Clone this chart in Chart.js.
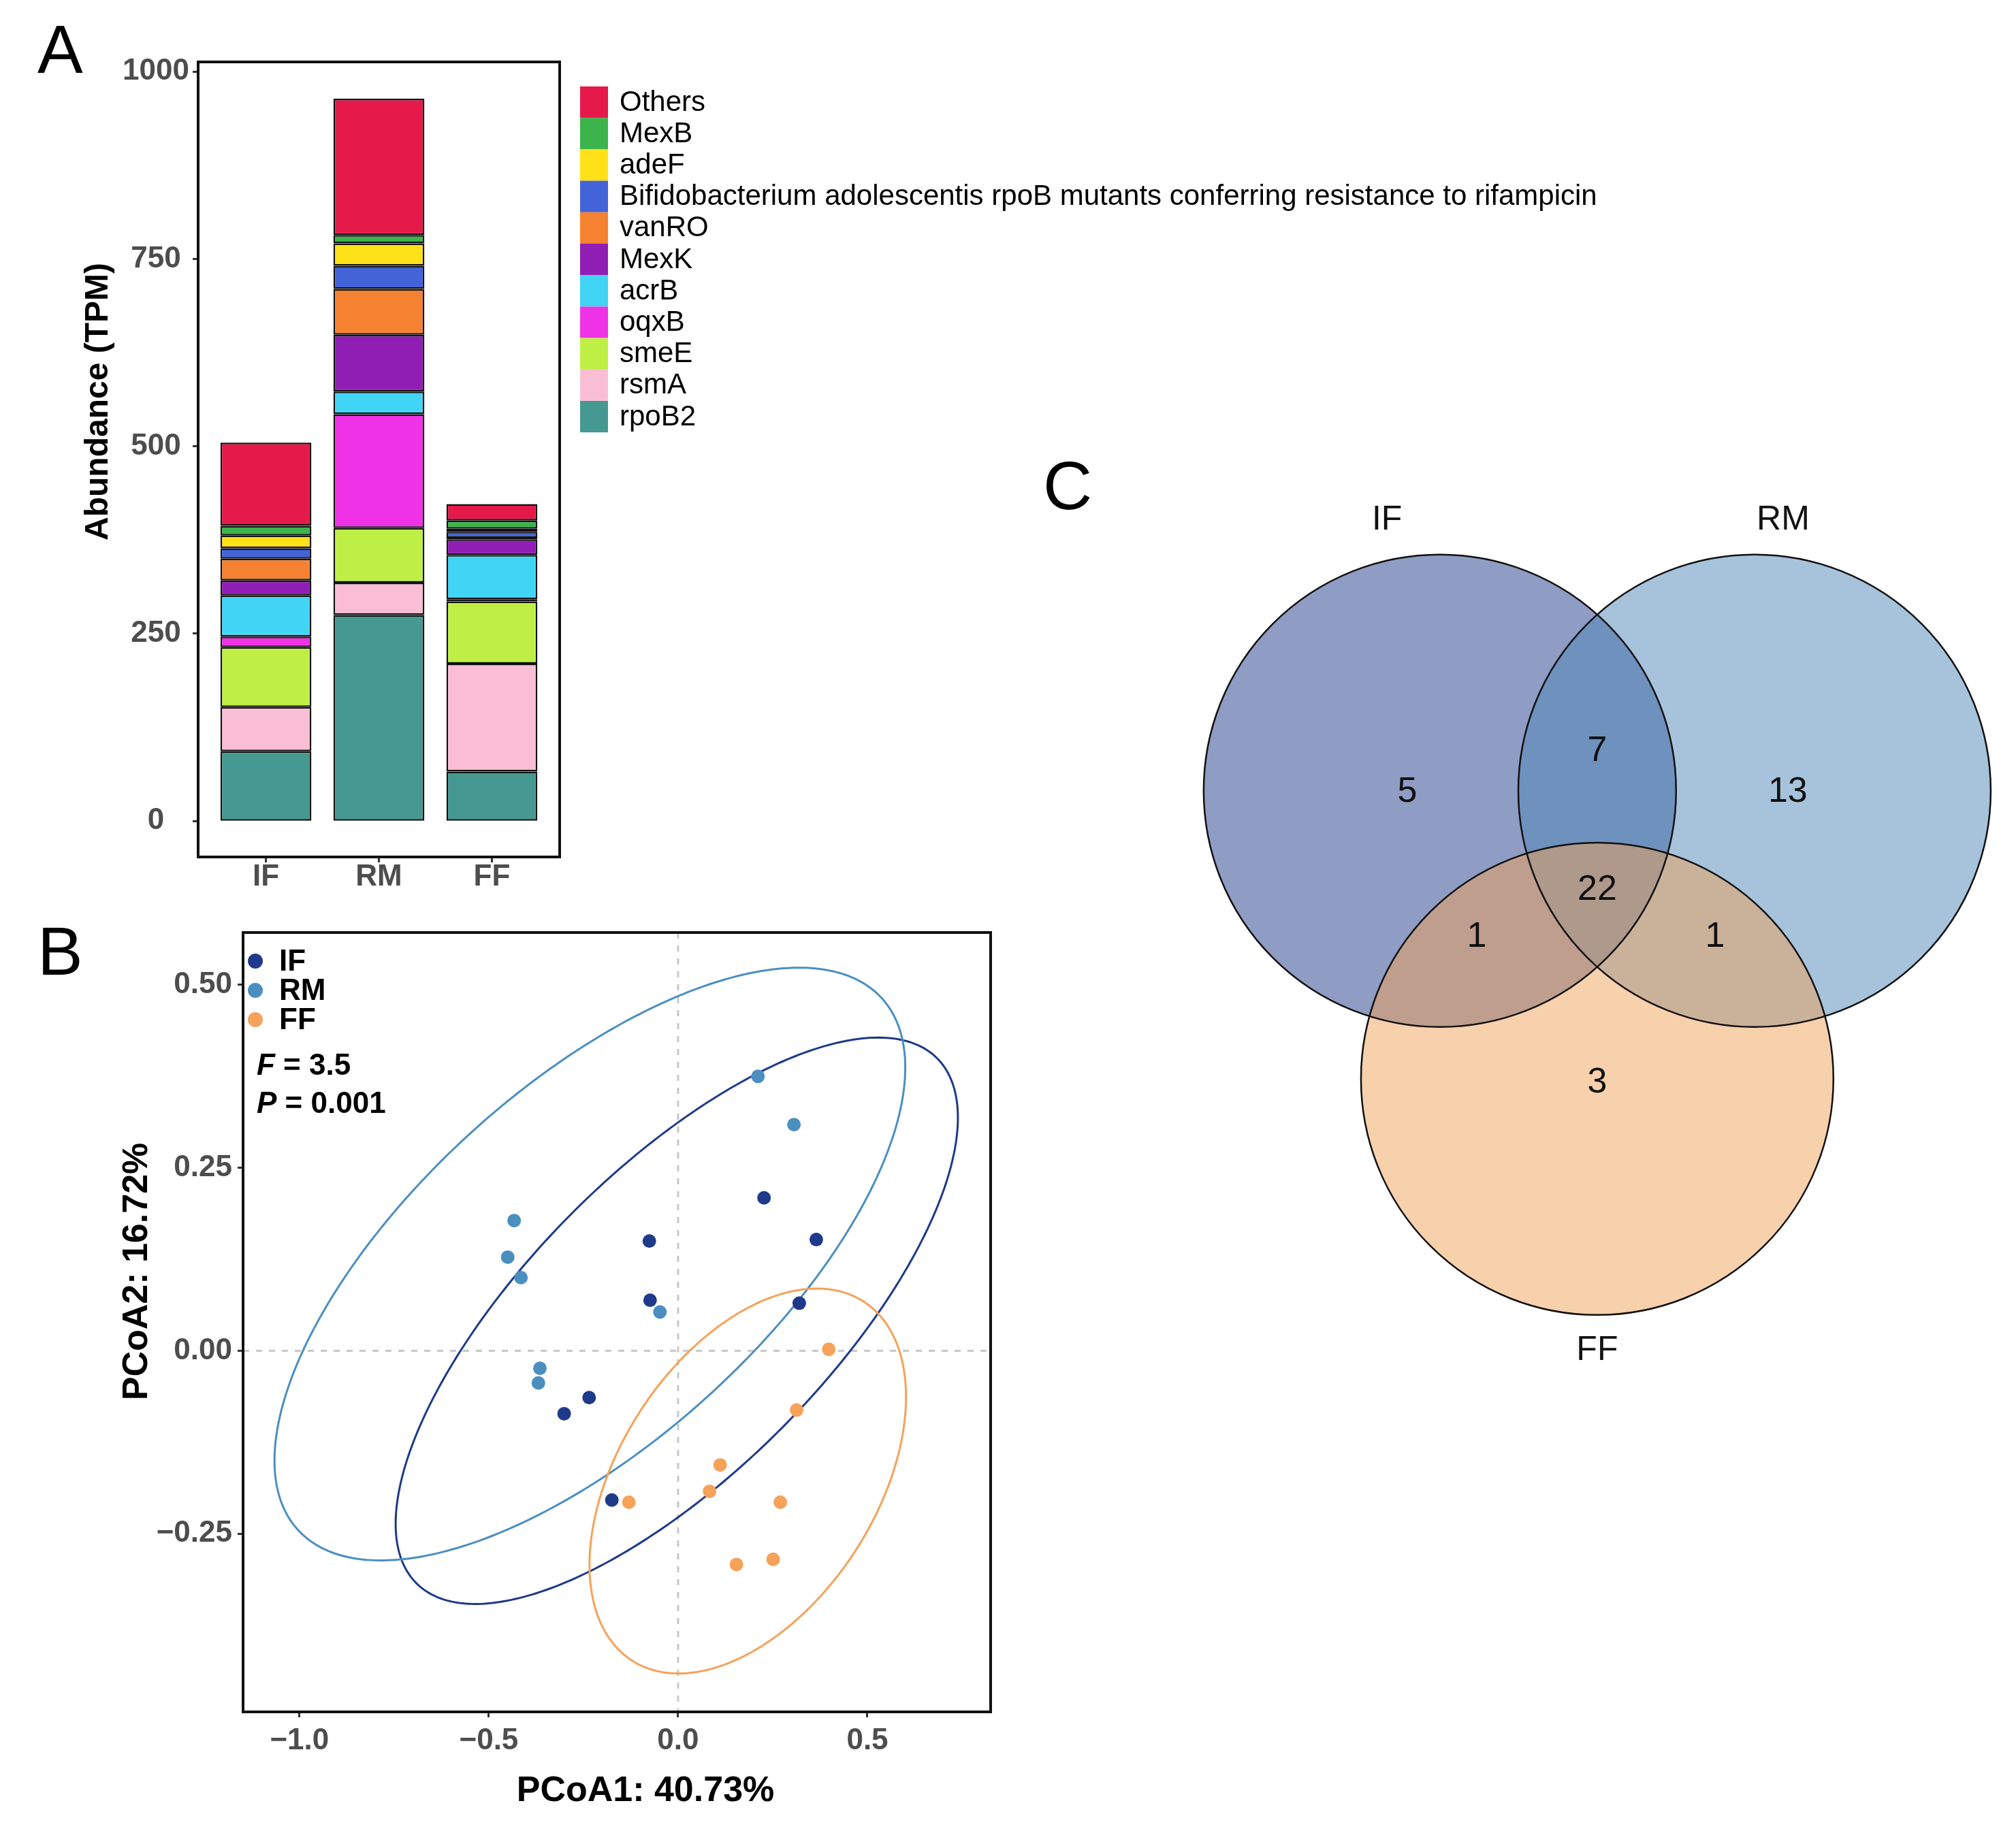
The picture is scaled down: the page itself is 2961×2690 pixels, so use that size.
<!DOCTYPE html>
<html>
<head>
<meta charset="utf-8">
<script src="https://cdn.jsdelivr.net/npm/chart.js@4.4.1/dist/chart.umd.min.js"></script>
<style>
  html, body { margin: 0; padding: 0; background: #fff; }
  #page { position: relative; width: 2961px; height: 2690px; overflow: hidden; font-family: 'Liberation Sans', Arial, sans-serif; }
  .layer { position: absolute; left: 0; top: 0; width: 2961px; height: 2690px; }
  .tag { position: absolute; font-size: 100px; line-height: 1; color: #000; }
</style>
</head>
<body>
<div id="page">
  <div class="layer"><canvas id="barCanvas"></canvas></div>
  <div class="layer"><canvas id="pcoaCanvas"></canvas></div>
  <div class="layer"><canvas id="vennCanvas"></canvas></div>
  <div class="tag" style="left:55px;top:22px">A</div>
  <div class="tag" style="left:55px;top:1347px">B</div>
  <div class="tag" style="left:1532px;top:663px">C</div>
</div>
<script>
const FONT = "'Liberation Sans', Arial, Helvetica, sans-serif";

// ---- panel A: abundance (TPM) per group ----
const groupsA = ['IF', 'RM', 'FF'];
const yTicksA = [0, 250, 500, 750, 1000];
// stacking order, bottom to top
const genesA = ['rpoB2', 'rsmA', 'smeE', 'oqxB', 'acrB', 'MexK', 'vanRO',
  'Bifidobacterium adolescentis rpoB mutants conferring resistance to rifampicin',
  'adeF', 'MexB', 'Others'];
const rpoB2  = [93, 275, 66];
const rsmA   = [59, 43, 144];
const smeE   = [80, 73, 83];
const oqxB   = [14, 152, 3];
const acrB   = [55, 30, 59];
const MexK   = [20, 76, 21];
const vanRO  = [29, 61, 2];
const bifido = [14, 31, 8];
const adeF   = [17, 30, 4];
const MexB   = [13, 11, 11];
const others = [111, 182, 22];
const abundanceA = [rpoB2, rsmA, smeE, oqxB, acrB, MexK, vanRO, bifido, adeF, MexB, others];
const geneColors = ['#469990', '#FABED4', '#BFEF45', '#F032E6', '#42D4F4', '#911EB4',
  '#F58231', '#4363D8', '#FFE119', '#3CB44B', '#E6194B'];

// ---- panel B: PCoA ----
const groupsB = ['IF', 'RM', 'FF'];
const pcoaIFx = [0.227, 0.365, -0.076, -0.074, 0.320, -0.235, -0.301, -0.175];
const pcoaIFy = [0.209, 0.152, 0.150, 0.069, 0.065, -0.064, -0.086, -0.204];
const pcoaRMx = [0.211, 0.306, -0.433, -0.450, -0.415, -0.048, -0.365, -0.369];
const pcoaRMy = [0.375, 0.309, 0.178, 0.128, 0.100, 0.053, -0.024, -0.044];
const pcoaFFx = [0.398, 0.313, 0.111, 0.083, -0.130, 0.270, 0.251, 0.154];
const pcoaFFy = [0.002, -0.081, -0.156, -0.192, -0.207, -0.207, -0.285, -0.292];
// 95% ellipses: centre x, centre y, half-width x, half-height y, xy term
const ellipseIF = [-0.0035, 0.041, 0.7425, 0.387, 0.206];
const ellipseRM = [-0.233, 0.1185, 0.833, 0.405, 0.2237];
const ellipseFF = [0.184, -0.178, 0.418, 0.263, 0.048];
const xTicksB = [-1.0, -0.5, 0.0, 0.5];
const xTickLabelsB = ['\u22121.0', '\u22120.5', '0.0', '0.5'];
const yTicksB = [-0.25, 0.0, 0.25, 0.5];
const yTickLabelsB = ['\u22120.25', '0.00', '0.25', '0.50'];
const statLines = [['F', ' = 3.5'], ['P', ' = 0.001']];
const groupColorsB = ['#1F3A8A', '#4B8FC1', '#F6A25A'];

// ---- panel C: Venn ----
const vennSets = ['IF', 'RM', 'FF'];
const vennRegions = ['IF', 'RM', 'FF', 'IF&RM', 'IF&FF', 'RM&FF', 'IF&RM&FF'];
const vennCounts = [5, 13, 3, 7, 1, 1, 22];
const vennFill = ['rgba(31,58,136,0.5)', 'rgba(77,135,183,0.5)', 'rgba(239,161,89,0.5)'];
// layout of the diagram (circle radius = 1)
const vennCentres = [[-0.666, 0.6095], [0.666, 0.6095], [0, -0.6095]];
const vennSetLabelPos = [[-0.89, 1.754], [0.787, 1.754], [0, -1.76]];
const vennRegionPos = [[-0.804, 0.604], [0.807, 0.604], [0, -0.626], [0, 0.776],
  [-0.51, -0.009], [0.499, -0.009], [0, 0.19]];

const tickGrid = { drawOnChartArea: false, drawTicks: true, tickLength: 8, tickWidth: 3, tickColor: '#333', offset: false };

function boxPlugin(id) {
  return {
    id: id,
    afterDraw(chart) {
      const {ctx, chartArea: a} = chart;
      ctx.save();
      ctx.strokeStyle = '#111';
      ctx.lineWidth = 4;
      ctx.strokeRect(a.left, a.top, a.right - a.left, a.bottom - a.top);
      ctx.restore();
    }
  };
}

// legend + axis title for panel A
const barExtras = {
  id: 'barExtras',
  afterDraw(chart) {
    const {ctx, chartArea: a} = chart;
    const ds = chart.data.datasets.slice().reverse();
    ctx.save();
    const h = 46.2;
    ds.forEach((d, i) => {
      ctx.fillStyle = d.backgroundColor;
      ctx.fillRect(a.right + 30, a.top + 36 + i * h, 41, h);
      ctx.fillStyle = '#000';
      ctx.font = '42px ' + FONT;
      ctx.textAlign = 'left';
      ctx.textBaseline = 'middle';
      ctx.fillText(d.label, a.right + 88, a.top + 36 + i * h + h / 2 + 1);
    });
    ctx.translate(145, 590);
    ctx.rotate(-Math.PI / 2);
    ctx.font = 'bold 48px ' + FONT;
    ctx.textAlign = 'center';
    ctx.fillText('Abundance (TPM)', 0, 0);
    ctx.restore();
  }
};

const barChart = new Chart(document.getElementById('barCanvas').getContext('2d'), {
  type: 'bar',
  data: {
    datasets: genesA.map((g, i) => ({
      label: g,
      data: abundanceA[i].map((v, j) => ({x: j + 1, y: v})),
      backgroundColor: geneColors[i],
      borderColor: '#111',
      borderWidth: 2.5,
      borderSkipped: false,
      barPercentage: 1,
      categoryPercentage: 0.805
    }))
  },
  options: {
    responsive: true,
    maintainAspectRatio: false,
    animation: false,
    layout: { padding: { left: 161, top: 91, right: 2139, bottom: 1371 } },
    plugins: { legend: { display: false }, tooltip: { enabled: false } },
    scales: {
      x: {
        type: 'linear', stacked: true, min: 0.4, max: 3.6, offset: false,
        afterFit: s => { s.height = 60; },
        afterBuildTicks: s => { s.ticks = groupsA.map((g, i) => ({value: i + 1})); },
        ticks: {
          callback: v => groupsA[v - 1],
          font: { family: FONT, size: 44, weight: 'bold', lineHeight: 1 },
          color: '#4D4D4D', padding: 0, maxRotation: 0, autoSkip: false
        },
        grid: tickGrid,
        border: { display: false }
      },
      y: {
        stacked: true, min: -48, max: 1013,
        afterFit: s => { s.width = 130; },
        afterBuildTicks: s => { s.ticks = yTicksA.map(v => ({value: v})); },
        ticks: {
          callback: v => String(v),
          font: { family: FONT, size: 44, weight: 'bold' },
          color: '#4D4D4D', padding: 5, crossAlign: 'center'
        },
        grid: tickGrid,
        border: { display: false }
      }
    }
  },
  plugins: [boxPlugin('boxA'), barExtras]
});

// ellipses, zero lines, legend and titles for panel B
const pcoaExtras = {
  id: 'pcoaExtras',
  beforeDatasetsDraw(chart) {
    const {ctx, chartArea: a, scales: {x, y}} = chart;
    ctx.save();
    ctx.setLineDash([9, 10]);
    ctx.strokeStyle = '#C8C8C8';
    ctx.lineWidth = 3;
    ctx.beginPath();
    ctx.moveTo(x.getPixelForValue(0), a.top);
    ctx.lineTo(x.getPixelForValue(0), a.bottom);
    ctx.moveTo(a.left, y.getPixelForValue(0));
    ctx.lineTo(a.right, y.getPixelForValue(0));
    ctx.stroke();
    ctx.setLineDash([]);
    [ellipseIF, ellipseRM, ellipseFF].forEach((e, i) => {
      const [cx, cy, sx, sy, cxy] = e;
      const k = cxy / sx;
      const m = Math.sqrt(sy * sy - k * k);
      ctx.beginPath();
      for (let s = 0; s <= 360; s++) {
        const t = s / 360 * 2 * Math.PI;
        const px = x.getPixelForValue(cx + sx * Math.cos(t));
        const py = y.getPixelForValue(cy + k * Math.cos(t) + m * Math.sin(t));
        if (s === 0) ctx.moveTo(px, py); else ctx.lineTo(px, py);
      }
      ctx.closePath();
      ctx.strokeStyle = groupColorsB[i];
      ctx.lineWidth = 3;
      ctx.stroke();
    });
    ctx.restore();
  },
  afterDraw(chart) {
    const {ctx, chartArea: a} = chart;
    ctx.save();
    ctx.textBaseline = 'middle';
    ctx.textAlign = 'left';
    groupsB.forEach((g, i) => {
      const yy = a.top + 42 + i * 43;
      ctx.fillStyle = groupColorsB[i];
      ctx.beginPath();
      ctx.arc(a.left + 18, yy, 11, 0, 2 * Math.PI);
      ctx.fill();
      ctx.fillStyle = '#000';
      ctx.font = 'bold 44px ' + FONT;
      ctx.fillText(g, a.left + 53, yy + 2);
    });
    statLines.forEach((s, i) => {
      const yy = a.top + 197 + i * 56;
      ctx.font = 'italic bold 44px ' + FONT;
      ctx.fillText(s[0], a.left + 20, yy);
      const w = ctx.measureText(s[0]).width;
      ctx.font = 'bold 44px ' + FONT;
      ctx.fillText(s[1], a.left + 20 + w, yy);
    });
    ctx.textAlign = 'center';
    ctx.font = 'bold 52px ' + FONT;
    ctx.fillText('PCoA1: 40.73%', 948, 2632);
    ctx.translate(202, 1868);
    ctx.rotate(-Math.PI / 2);
    ctx.fillText('PCoA2: 16.72%', 0, 0);
    ctx.restore();
  }
};

const pcoaData = [[pcoaIFx, pcoaIFy], [pcoaRMx, pcoaRMy], [pcoaFFx, pcoaFFy]];

const pcoaChart = new Chart(document.getElementById('pcoaCanvas').getContext('2d'), {
  type: 'scatter',
  data: {
    datasets: groupsB.map((g, i) => ({
      label: g,
      data: pcoaData[i][0].map((v, j) => ({x: v, y: pcoaData[i][1][j]})),
      backgroundColor: groupColorsB[i],
      borderWidth: 0,
      pointRadius: 10,
      pointHoverRadius: 10
    }))
  },
  options: {
    responsive: true,
    maintainAspectRatio: false,
    animation: false,
    layout: { padding: { left: 207, top: 1370, right: 1506, bottom: 105 } },
    plugins: { legend: { display: false }, tooltip: { enabled: false } },
    scales: {
      x: {
        type: 'linear', min: -1.149, max: 0.8255,
        afterFit: s => { s.height = 70; },
        afterBuildTicks: s => { s.ticks = xTicksB.map(v => ({value: v})); },
        ticks: {
          callback: (v, i) => xTickLabelsB[i],
          font: { family: FONT, size: 44, weight: 'bold' },
          color: '#4D4D4D', padding: 8, maxRotation: 0, autoSkip: false
        },
        grid: tickGrid,
        border: { display: false }
      },
      y: {
        type: 'linear', min: -0.4935, max: 0.5716,
        afterFit: s => { s.width = 150; },
        afterBuildTicks: s => { s.ticks = yTicksB.map(v => ({value: v})); },
        ticks: {
          callback: (v, i) => yTickLabelsB[i],
          font: { family: FONT, size: 44, weight: 'bold' },
          color: '#4D4D4D', padding: 8
        },
        grid: tickGrid,
        border: { display: false }
      }
    }
  },
  plugins: [boxPlugin('boxB'), pcoaExtras]
});

// Venn circles and counts, placed through the chart's scales
const vennPlugin = {
  id: 'venn',
  afterDraw(chart) {
    const {ctx, scales: {x, y}} = chart;
    const r = x.getPixelForValue(1) - x.getPixelForValue(0);
    ctx.save();
    vennCentres.forEach((c, i) => {
      ctx.beginPath();
      ctx.arc(x.getPixelForValue(c[0]), y.getPixelForValue(c[1]), r, 0, 2 * Math.PI);
      ctx.fillStyle = vennFill[i];
      ctx.fill();
    });
    vennCentres.forEach(c => {
      ctx.beginPath();
      ctx.arc(x.getPixelForValue(c[0]), y.getPixelForValue(c[1]), r, 0, 2 * Math.PI);
      ctx.strokeStyle = '#111';
      ctx.lineWidth = 2.5;
      ctx.stroke();
    });
    ctx.fillStyle = '#111';
    ctx.textAlign = 'center';
    ctx.textBaseline = 'middle';
    ctx.font = '52px ' + FONT;
    vennRegions.forEach((reg, i) => {
      const p = vennRegionPos[i];
      ctx.fillText(String(vennCounts[i]), x.getPixelForValue(p[0]), y.getPixelForValue(p[1]));
    });
    ctx.font = '50px ' + FONT;
    vennSets.forEach((s, i) => {
      const p = vennSetLabelPos[i];
      ctx.fillText(s, x.getPixelForValue(p[0]), y.getPixelForValue(p[1]));
    });
    ctx.restore();
  }
};

const vennChart = new Chart(document.getElementById('vennCanvas').getContext('2d'), {
  type: 'scatter',
  data: { datasets: [] },
  options: {
    responsive: true,
    maintainAspectRatio: false,
    animation: false,
    layout: { padding: { left: 1652, top: 700, right: 60, bottom: 622.5 } },
    plugins: { legend: { display: false }, tooltip: { enabled: false } },
    scales: {
      x: { type: 'linear', min: -2, max: 1.6, display: false },
      y: { type: 'linear', min: -2, max: 1.94, display: false }
    }
  },
  plugins: [vennPlugin]
});
</script>
</body>
</html>
